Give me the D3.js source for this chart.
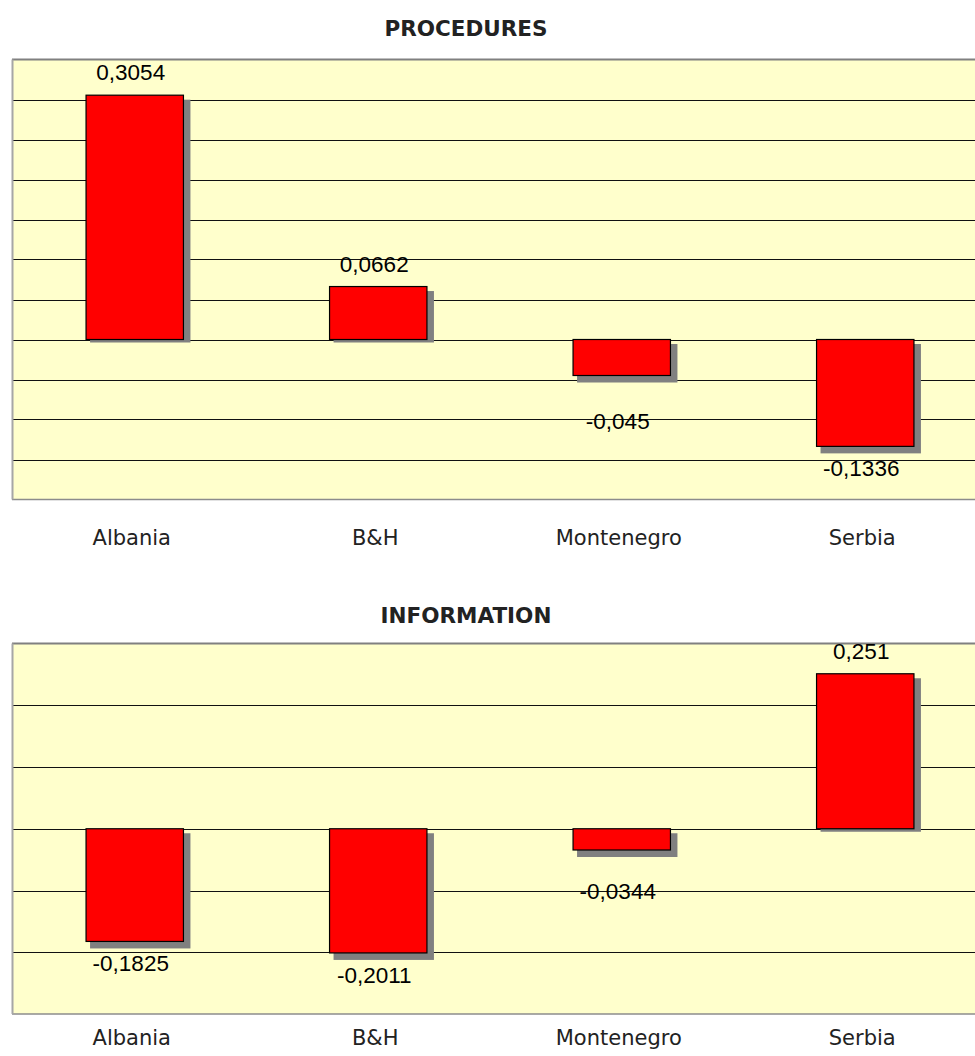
<!DOCTYPE html>
<html>
<head>
<meta charset="utf-8">
<script src="https://cdn.jsdelivr.net/npm/d3@7"></script>
<style>
  body { margin: 0; background: #fff; }
  svg { display: block; }
</style>
</head>
<body>
<svg id="chart" width="975" height="1056"></svg>
<script>
let categories = ['Albania', 'B&H', 'Montenegro', 'Serbia'];
let proceduresValues = [0.3054, 0.0662, -0.045, -0.1336];
let informationValues = [-0.1825, -0.2011, -0.0344, 0.251];
let proceduresDomain = [-0.2, 0.35];
let proceduresGrid = [-0.15, -0.1, -0.05, 0, 0.05, 0.1, 0.15, 0.2, 0.25, 0.3];
let informationDomain = [-0.3, 0.3];
let informationGrid = [-0.2, -0.1, 0, 0.1, 0.2];

let svg = d3.select('#chart');
let plotLeft = 13, plotRight = 987;

let charts = [
    { title: 'PROCEDURES', values: proceduresValues, domain: proceduresDomain, grid: proceduresGrid,
      titleY: 36, top: 59.5, bottom: 499.5, catY: 545, nudge: { 'Montenegro': 23 } },
    { title: 'INFORMATION', values: informationValues, domain: informationDomain, grid: informationGrid,
      titleY: 623, top: 643.5, bottom: 1014, catY: 1045, nudge: { 'Montenegro': 19 } }
];

let x = d3.scaleBand()
    .domain(categories)
    .range([plotLeft, plotRight])
    .paddingInner(0.6)
    .paddingOuter(0.3);

function fmt(v) {
    return String(v).replace('.', ',');
}

charts.forEach((c) => {
    let y = d3.scaleLinear().domain(c.domain).range([c.bottom, c.top]);
    let g = svg.append('g');
    let zero = y(0);

    g.append('rect')
        .attr('x', plotLeft).attr('y', c.top)
        .attr('width', 975 - plotLeft).attr('height', c.bottom - c.top)
        .attr('fill', '#ffffcc');

    g.selectAll('.grid').data(c.grid).enter().append('line')
        .attr('x1', plotLeft).attr('x2', 975)
        .attr('y1', (d) => Math.round(y(d)) + 0.5)
        .attr('y2', (d) => Math.round(y(d)) + 0.5)
        .attr('stroke', '#111').attr('stroke-width', 1.2);

    // plot border (right side is cut off by the page edge)
    g.append('line').attr('x1', plotLeft - 1).attr('x2', 975).attr('y1', c.top).attr('y2', c.top)
        .attr('stroke', '#808080').attr('stroke-width', 2);
    g.append('line').attr('x1', plotLeft - 1).attr('x2', 975).attr('y1', c.bottom).attr('y2', c.bottom)
        .attr('stroke', '#8c8c8c').attr('stroke-width', 1.5);
    g.append('line').attr('x1', plotLeft - 0.5).attr('x2', plotLeft - 0.5).attr('y1', c.top).attr('y2', c.bottom)
        .attr('stroke', '#a6a6a6').attr('stroke-width', 2);

    let rows = categories.map((name, i) => ({ name: name, value: c.values[i] }));

    g.selectAll('.shadow').data(rows).enter().append('rect')
        .attr('x', (d) => x(d.name) + 4)
        .attr('y', (d) => Math.min(y(d.value), zero) + 4.5)
        .attr('width', x.bandwidth() + 3)
        .attr('height', (d) => {
            let y0 = Math.min(y(d.value), zero) + 4.5;
            let y1 = d.value >= 0 ? zero + 3 : y(d.value) + 7;
            return y1 - y0;
        })
        .attr('fill', '#808080');

    g.selectAll('.bar').data(rows).enter().append('rect')
        .attr('x', (d) => x(d.name))
        .attr('y', (d) => Math.min(y(d.value), zero))
        .attr('width', x.bandwidth())
        .attr('height', (d) => Math.abs(y(d.value) - zero))
        .attr('fill', '#ff0000')
        .attr('stroke', '#000').attr('stroke-width', 1.2);

    g.selectAll('.value').data(rows).enter().append('text')
        .attr('x', (d) => x(d.name) + x.bandwidth() / 2 - 4)
        .attr('y', (d) => d.value >= 0 ? y(d.value) - 15 : y(d.value) + 30 + (c.nudge[d.name] || 0))
        .attr('text-anchor', 'middle')
        .attr('font-family', '"Liberation Sans", Arial, sans-serif')
        .attr('font-size', 22.5)
        .attr('fill', '#000')
        .text((d) => fmt(d.value));

    g.selectAll('.cat').data(categories).enter().append('text')
        .attr('x', (d) => x(d) + x.bandwidth() / 2 - 3)
        .attr('y', c.catY)
        .attr('text-anchor', 'middle')
        .attr('font-family', '"DejaVu Sans", Verdana, sans-serif')
        .attr('font-size', 21)
        .attr('fill', '#222')
        .text((d) => d);

    svg.append('text')
        .attr('x', 466).attr('y', c.titleY)
        .attr('text-anchor', 'middle')
        .attr('font-family', '"DejaVu Sans", Verdana, sans-serif')
        .attr('font-weight', 'bold')
        .attr('font-size', 21.5)
        .attr('fill', '#222')
        .text(c.title);
});
</script>
</body>
</html>
